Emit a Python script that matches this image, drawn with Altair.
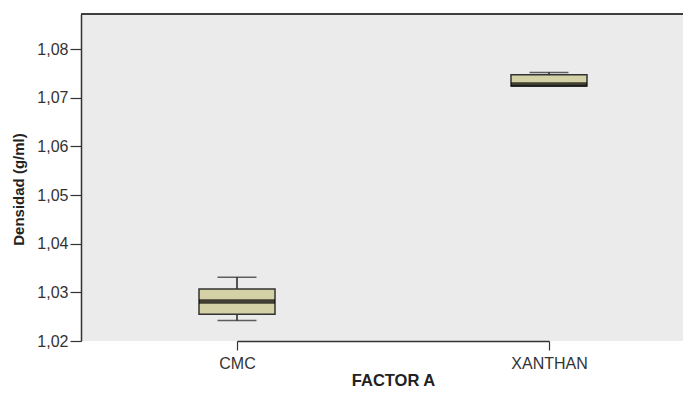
import altair as alt
import pandas as pd

categories = ["CMC", "XANTHAN"]
mins = [1.0242, 1.0724]
q1s = [1.0255, 1.0724]
medians = [1.0281, 1.0727]
q3s = [1.0307, 1.0747]
maxs = [1.0331, 1.0752]

df = pd.DataFrame({"cat": categories, "min": mins, "q1": q1s,
                   "median": medians, "q3": q3s, "max": maxs})

FONT = "Liberation Sans"
W, H = 602, 327
xscale = alt.Scale(type="point", domain=categories, range=[156, 468], padding=0)
yscale = alt.Scale(domain=[1.02, 1.0872], nice=False, zero=False)

xaxis = alt.Axis(title="FACTOR A", labelFont=FONT, labelFontSize=16, labelColor="#333",
                 labelAngle=0, labelPadding=5, tickSize=9, tickColor="#333", domainColor="#333",
                 domainWidth=1.5, tickWidth=1.2, titleFont=FONT, titleFontSize=16.5,
                 titleFontWeight="bold", titleColor="#222", titleX=312, titleY=39,
                 titleBaseline="middle", titleAlign="center", grid=False)
yaxis = alt.Axis(title="Densidad (g/ml)", values=[1.02, 1.03, 1.04, 1.05, 1.06, 1.07, 1.08],
                 labelExpr="replace(format(datum.value, '.2f'), '.', ',')",
                 labelFont=FONT, labelFontSize=16, labelColor="#333", labelPadding=2,
                 tickSize=11, tickColor="#333", tickWidth=1.2, domainColor="#333", domainWidth=1.5,
                 titleFont=FONT, titleFontSize=15, titleFontWeight="bold", titleColor="#222",
                 titleX=-63, titleY=175, titleBaseline="middle", titleAlign="center",
                 titleAngle=270, grid=False)

base = alt.Chart(df)
x = alt.X("cat:N", scale=xscale, axis=xaxis)

topline = base.mark_rule(color="#333", strokeWidth=1.5).encode(
    x=alt.value(0), x2=alt.value(W), y=alt.value(0))
whisk = base.mark_rule(color="#222", strokeWidth=1.5).encode(
    x=x, y=alt.Y("min:Q", scale=yscale, axis=yaxis), y2="max:Q")
box = base.mark_bar(size=76, fill="#d5d1a6", stroke="#333", strokeWidth=1.5).encode(
    x=x, y=alt.Y("q1:Q", scale=yscale), y2="q3:Q")
med = base.mark_tick(size=76, thickness=4.5, color="#000").encode(
    x=x, y=alt.Y("median:Q", scale=yscale))
capmin = base.mark_tick(size=39, thickness=1.5, color="#222").encode(
    x=x, y=alt.Y("min:Q", scale=yscale))
capmax = base.mark_tick(size=39, thickness=1.5, color="#222").encode(
    x=x, y=alt.Y("max:Q", scale=yscale))

chart = alt.layer(whisk, box, med, capmin, capmax, topline).properties(
    width=W, height=H,
    padding={"left": 73, "top": 6, "right": 0, "bottom": 47},
    autosize=alt.AutoSizeParams(type="none"),
    background="white",
).configure_view(fill="#ebebeb", strokeWidth=0)

chart.save("out.html", embed_options={"renderer": "svg", "actions": False})
